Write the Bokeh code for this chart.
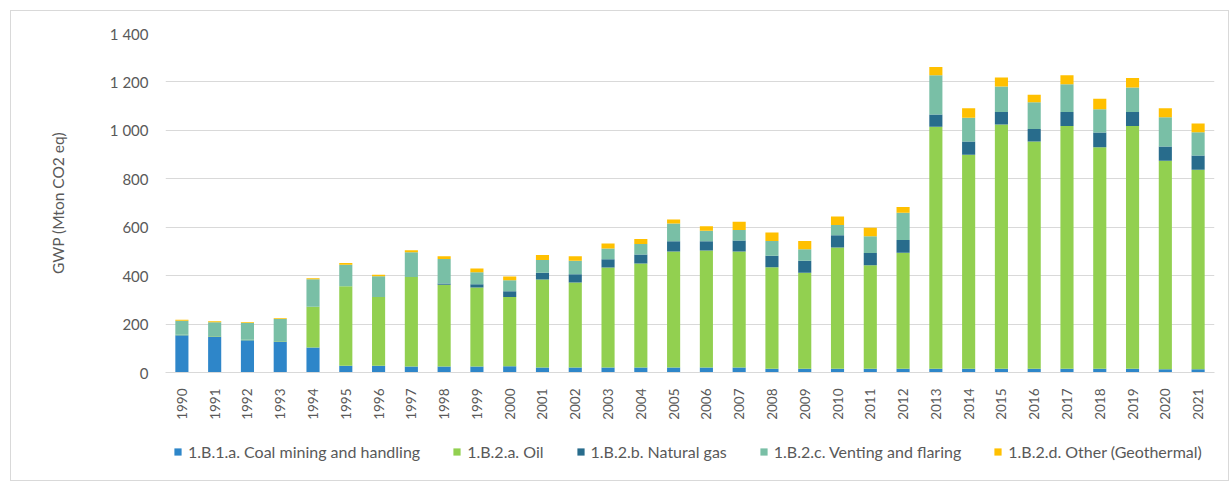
from bokeh.plotting import figure
from bokeh.models import ColumnDataSource, Legend, LegendItem, FixedTicker, Range1d
from bokeh.layouts import column
from bokeh.embed import file_html
from bokeh.resources import INLINE
import math

years = [str(y) for y in range(1990, 2022)]
coal = [154, 149, 133, 128, 103, 28, 28, 25, 25, 25, 26, 21, 21, 21, 21, 21, 21, 21,
        16, 16, 16, 16, 16, 16, 16, 16, 16, 16, 16, 16, 13, 13]
oil = [2, 2, 2, 2, 169, 328, 284, 369, 337, 326, 286, 363, 351, 413, 429, 479, 483, 479,
       419, 396, 500, 427, 479, 999, 883, 1008, 938, 1002, 914, 1002, 862, 824]
natgas = [0, 0, 0, 0, 0, 0, 0, 0, 6, 13, 24, 28, 34, 34, 37, 42, 38, 45,
          47, 50, 51, 51, 52, 50, 55, 52, 52, 58, 61, 58, 58, 59]
venting = [58, 57, 69, 91, 113, 89, 85, 103, 101, 50, 45, 53, 55, 44, 44, 73, 43, 44,
           61, 47, 42, 69, 113, 163, 98, 105, 110, 114, 96, 101, 121, 96]
other = [4, 4, 4, 3, 4, 7, 7, 8, 11, 16, 15, 20, 19, 21, 20, 17, 19, 34,
         35, 34, 35, 35, 23, 34, 39, 37, 31, 38, 44, 39, 37, 36]

series = ["coal", "oil", "natgas", "venting", "other"]
labels = ["1.B.1.a. Coal mining and handling", "1.B.2.a. Oil", "1.B.2.b. Natural gas",
          "1.B.2.c. Venting and flaring", "1.B.2.d. Other (Geothermal)"]
colors = ["#2E86C9", "#92D050", "#286C8C", "#79BFA6", "#FFC000"]
y_ticks = [0, 200, 400, 600, 800, 1000, 1200, 1400]
y_tick_labels = ["0", "200", "400", "600", "800", "1 000", "1 200", "1 400"]

src = ColumnDataSource(dict(years=years, coal=coal, oil=oil, natgas=natgas,
                            venting=venting, other=other))

FONT = "Lato"
TXT = "#595959"

p = figure(x_range=years, y_range=Range1d(0, 1400), width=1217, height=419,
           output_backend="svg", toolbar_location=None,
           min_border_left=154, min_border_right=14, min_border_top=22, min_border_bottom=58)

renderers = p.vbar_stack(series, x="years", width=0.4, source=src, color=colors,
                         line_color=None)

p.outline_line_color = None
p.xgrid.grid_line_color = None
p.ygrid.grid_line_color = "#D9D9D9"
p.ygrid.grid_line_width = 1
p.x_range.range_padding = 0.0

p.yaxis.ticker = FixedTicker(ticks=y_ticks)
p.yaxis.major_label_overrides = {t: l for t, l in zip(y_ticks, y_tick_labels)}
p.yaxis.axis_line_color = None
p.yaxis.major_tick_line_color = None
p.yaxis.minor_tick_line_color = None
p.yaxis.major_label_text_font = FONT
p.yaxis.major_label_text_font_size = "15px"
p.yaxis.major_label_text_color = TXT
p.yaxis.major_label_standoff = 11
p.yaxis.axis_label = "GWP (Mton CO2 eq)"
p.yaxis.axis_label_text_font = FONT
p.yaxis.axis_label_text_font_size = "15.5px"
p.yaxis.axis_label_text_font_style = "normal"
p.yaxis.axis_label_text_color = TXT
p.yaxis.axis_label_standoff = 40

p.xaxis.axis_line_color = "#D9D9D9"
p.xaxis.major_tick_line_color = None
p.xaxis.minor_tick_line_color = None
p.xaxis.major_label_orientation = math.pi / 2
p.xaxis.major_label_text_font = FONT
p.xaxis.major_label_text_font_size = "13.5px"
p.xaxis.major_label_text_color = TXT
p.xaxis.major_label_standoff = 10

# legend strip: a small figure whose zero-width, out-of-view stacked bars serve as legend proxies
lg = figure(width=1217, height=50, x_range=years, y_range=Range1d(-20000, -10000),
            output_backend="svg", toolbar_location=None,
            x_axis_location=None, y_axis_location=None,
            min_border_left=0, min_border_right=0, min_border_top=0, min_border_bottom=0)
lg.outline_line_color = None
lg.xgrid.grid_line_color = None
lg.ygrid.grid_line_color = None
proxies = lg.vbar_stack(series, x="years", width=0.0, source=src, color=colors,
                        line_color=None)
items = [LegendItem(label=l, renderers=[r]) for l, r in zip(labels, proxies)]
legend = Legend(items=items, orientation="horizontal", location=(8, 19),
                label_text_font=FONT, label_text_font_size="16px", label_text_color=TXT,
                glyph_width=9, glyph_height=9, spacing=32, border_line_color=None,
                background_fill_alpha=0, label_standoff=6, margin=0, padding=4)
lg.add_layout(legend, "center")

layout = column(p, lg, spacing=0,
                styles={"border": "1px solid #D9D9D9", "margin-left": "10px",
                        "margin-top": "10px"})

open("out.html", "w").write(file_html(layout, INLINE))
